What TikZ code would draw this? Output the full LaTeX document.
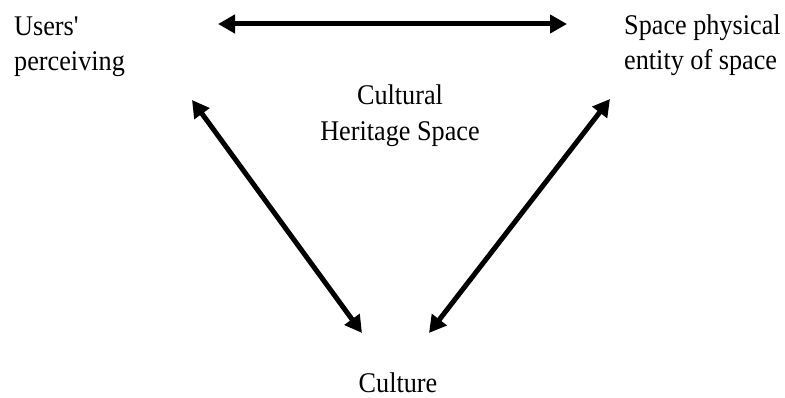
\documentclass[tikz,border=0pt]{standalone}
\usepackage{fontspec}
\setmainfont{Liberation Serif}[FakeStretch=0.92]
\usetikzlibrary{arrows.meta}
\tikzset{
  label text/.style={inner sep=0pt, font=\fontsize{28.5}{35}\selectfont},
  link/.style={line width=5pt, {Triangle[length=17pt,width=18pt]}-{Triangle[length=17pt,width=18pt]}}
}
\begin{document}
\begin{tikzpicture}[x=1pt,y=-1pt]
  \useasboundingbox (0,0) rectangle (785,398);
  % corner labels
  \node[label text, anchor=base west] (users1) at (14,36) {Users\textquotesingle};
  \node[label text, anchor=base west] (users2) at (14,71) {perceiving};
  \node[label text, anchor=base west] (space1) at (624,35) {Space physical};
  \node[label text, anchor=base west] (space2) at (624,70) {entity of space};
  % centre label
  \node[label text, anchor=base] (herit1) at (400,105) {Cultural};
  \node[label text, anchor=base] (herit2) at (400,141) {Heritage Space};
  % bottom label
  \node[label text, anchor=base] (culture) at (398,392) {Culture};
  % arrow end points
  \coordinate (uR) at (218,24);
  \coordinate (sL) at (567,24);
  \coordinate (uB) at (192,100);
  \coordinate (cL) at (362,333);
  \coordinate (sB) at (610,99);
  \coordinate (cR) at (429,333);
  % two-way relations
  \draw[link] (uR) -- (sL);
  \draw[link] (uB) -- (cL);
  \draw[link] (sB) -- (cR);
\end{tikzpicture}
\end{document}
